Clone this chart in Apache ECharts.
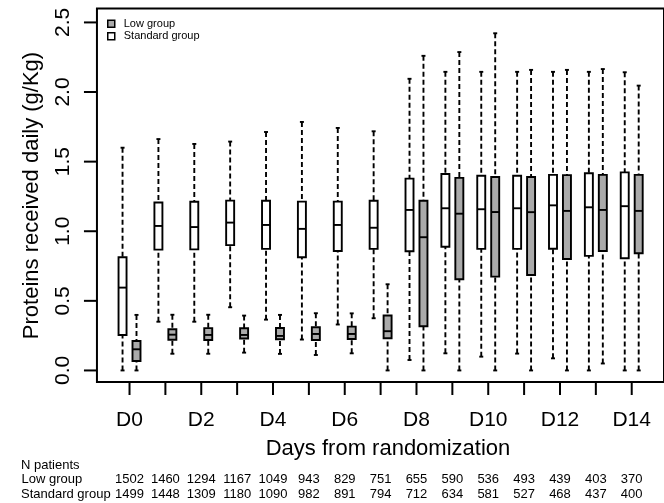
<!DOCTYPE html>
<html>
<head>
<meta charset="utf-8">
<script src="https://cdn.jsdelivr.net/npm/echarts@6/dist/echarts.min.js"></script>
<style>
  html, body { margin: 0; padding: 0; background: #fff; }
  #chart { width: 664px; height: 503px; }
</style>
</head>
<body>
<div id="chart"></div>
<script>
// Days after randomization
const dayLabels = ['D0','D1','D2','D3','D4','D5','D6','D7','D8','D9','D10','D11','D12','D13','D14'];

// Daily protein intake (g/kg): [lower whisker, Q1, median, Q3, upper whisker]
const standardStats = [
  [0.00, 0.255, 0.595, 0.813, 1.600],
  [0.35, 0.868, 1.038, 1.206, 1.662],
  [0.35, 0.870, 1.030, 1.212, 1.627],
  [0.454, 0.900, 1.062, 1.220, 1.644],
  [0.365, 0.873, 1.045, 1.219, 1.713],
  [0.222, 0.813, 1.017, 1.213, 1.785],
  [0.330, 0.858, 1.045, 1.213, 1.742],
  [0.375, 0.873, 1.025, 1.219, 1.718],
  [0.075, 0.856, 1.153, 1.378, 2.095],
  [0.123, 0.889, 1.165, 1.411, 2.145],
  [0.099, 0.873, 1.158, 1.399, 2.145],
  [0.121, 0.873, 1.165, 1.399, 2.145],
  [0.087, 0.874, 1.186, 1.405, 2.145],
  [0.000, 0.823, 1.172, 1.417, 2.145],
  [0.000, 0.806, 1.180, 1.423, 2.142]
];
const lowStats = [
  [0.000, 0.068, 0.152, 0.212, 0.399],
  [0.120, 0.221, 0.257, 0.296, 0.400],
  [0.120, 0.219, 0.255, 0.304, 0.400],
  [0.128, 0.229, 0.255, 0.303, 0.394],
  [0.119, 0.224, 0.248, 0.305, 0.399],
  [0.111, 0.219, 0.262, 0.310, 0.411],
  [0.123, 0.226, 0.262, 0.315, 0.410],
  [0.000, 0.231, 0.282, 0.395, 0.619],
  [0.000, 0.318, 0.957, 1.219, 2.260],
  [0.000, 0.655, 1.126, 1.383, 2.287],
  [0.000, 0.674, 1.138, 1.390, 2.422],
  [0.000, 0.686, 1.137, 1.390, 2.159],
  [0.000, 0.801, 1.146, 1.403, 2.159],
  [0.050, 0.858, 1.153, 1.405, 2.165],
  [0.000, 0.842, 1.146, 1.405, 2.046]
];

// Number of patients per day
const lowCounts = [1502, 1460, 1294, 1167, 1049, 943, 829, 751, 655, 590, 536, 493, 439, 403, 370];
const standardCounts = [1499, 1448, 1309, 1180, 1090, 982, 891, 794, 712, 634, 581, 527, 468, 437, 400];

// Axis ticks
const yTicks = [0, 0.5, 1.0, 1.5, 2.0, 2.5];
const xTickDays = dayLabels.map((_, i) => i);
const xLabelDays = xTickDays.filter(i => i % 2 === 0);

const FONT = "'Liberation Sans', Arial, Helvetica, sans-serif";
const BOX_W = 8;      // box width in px
const CAP_W = 4;      // whisker cap width in px
const SHIFT = 7 / 36; // side-by-side offset (in days)
const LW = 1.9;
const TICK_LEN = 13;

// Plot frame extent (data units)
const X_MIN = -0.908, X_MAX = 14.9;
const Y_MIN = -0.083, Y_MAX = 2.6;
// Drawing area is padded beyond the frame so the outward ticks fit inside it
const X_MIN_EXT = X_MIN - 14 / 36;
const Y_MIN_EXT = Y_MIN - 14 / 139.2;
const Y_MAX_EXT = Y_MAX + 2 / 139.2;

function toItems(stats, shift) {
  return stats.map((s, i) => [i + shift].concat(s));
}

function renderBox(params, api) {
  const x = api.value(0);
  const pMin = api.coord([x, api.value(1)]);
  const pQ1 = api.coord([x, api.value(2)]);
  const pMed = api.coord([x, api.value(3)]);
  const pQ3 = api.coord([x, api.value(4)]);
  const pMax = api.coord([x, api.value(5)]);
  const cx = pMin[0];
  const hw = BOX_W / 2, cw = CAP_W / 2;
  const fill = api.visual('color');
  const dash = { stroke: '#000', lineWidth: LW, lineDash: [5, 3], fill: null };
  const solid = { stroke: '#000', lineWidth: LW, fill: null };
  return {
    type: 'group',
    children: [
      { type: 'line', shape: { x1: cx, y1: pMax[1], x2: cx, y2: pQ3[1] }, style: dash },
      { type: 'line', shape: { x1: cx, y1: pMin[1], x2: cx, y2: pQ1[1] }, style: dash },
      { type: 'line', shape: { x1: cx - cw, y1: pMax[1], x2: cx + cw, y2: pMax[1] }, style: solid },
      { type: 'line', shape: { x1: cx - cw, y1: pMin[1], x2: cx + cw, y2: pMin[1] }, style: solid },
      { type: 'rect', shape: { x: cx - hw, y: pQ3[1], width: BOX_W, height: pQ1[1] - pQ3[1] },
        style: { fill: fill, stroke: '#000', lineWidth: LW } },
      { type: 'line', shape: { x1: cx - hw, y1: pMed[1], x2: cx + hw, y2: pMed[1] }, style: solid }
    ]
  };
}

// Frame item: [x0, y0, x1, y1]; draws the plot box plus its outward tick marks
function renderFrame(params, api) {
  const x0 = api.value(0), y0 = api.value(1), x1 = api.value(2), y1 = api.value(3);
  const tl = api.coord([x0, y1]);
  const br = api.coord([x1, y0]);
  const children = [{
    type: 'rect',
    shape: { x: tl[0], y: tl[1], width: br[0] - tl[0], height: br[1] - tl[1] },
    style: { fill: 'transparent', stroke: '#000', lineWidth: 2 }
  }];
  xTickDays.forEach(d => {
    const p = api.coord([d, y0]);
    children.push({ type: 'rect', shape: { x: p[0] - 1, y: p[1], width: 2, height: TICK_LEN },
                    style: { fill: '#000' } });
  });
  yTicks.forEach(v => {
    const p = api.coord([x0, v]);
    children.push({ type: 'rect', shape: { x: p[0] - TICK_LEN, y: p[1] - 1, width: TICK_LEN, height: 2 },
                    style: { fill: '#000' } });
  });
  return { type: 'group', children: children };
}

function countAxis(counts, offset) {
  return {
    type: 'value', gridIndex: 0, position: 'bottom', offset: offset,
    min: X_MIN_EXT, max: X_MAX,
    axisLine: { show: false, onZero: false }, axisTick: { show: false }, splitLine: { show: false },
    axisLabel: {
      customValues: xTickDays, margin: 0, verticalAlign: 'middle',
      formatter: v => String(counts[Math.round(v)]),
      fontFamily: FONT, fontSize: 13, color: '#000'
    }
  };
}

const chart = echarts.init(document.getElementById('chart'), null, { renderer: 'canvas' });

chart.setOption({
  animation: false,
  backgroundColor: '#fff',
  grid: {
    left: 83, top: 6.5, width: 583, height: 389.5, show: false
  },
  legend: {
    orient: 'vertical', left: 102, top: 13, itemWidth: 7, itemHeight: 7, itemGap: 1,
    icon: 'rect',
    textStyle: { fontFamily: FONT, fontSize: 11, color: '#000', padding: [0, 0, 0, 4], lineHeight: 11.5 },
    data: [
      { name: 'Low group', itemStyle: { color: '#aaaaaa', borderColor: '#000', borderWidth: 1.5 } },
      { name: 'Standard group', itemStyle: { color: '#ffffff', borderColor: '#000', borderWidth: 1.5 } }
    ]
  },
  xAxis: [
    {
      type: 'value', min: X_MIN_EXT, max: X_MAX, position: 'bottom',
      axisLine: { show: false, onZero: false },
      splitLine: { show: false },
      axisTick: { show: false },
      axisLabel: {
        customValues: xLabelDays, margin: 24, verticalAlign: 'middle',
        formatter: v => dayLabels[Math.round(v)],
        fontFamily: FONT, fontSize: 21, color: '#000'
      }
    },
    countAxis(lowCounts, 83.3),
    countAxis(standardCounts, 98.3)
  ],
  yAxis: {
    type: 'value', min: Y_MIN_EXT, max: Y_MAX_EXT, position: 'left',
    axisLine: { show: false, onZero: false },
    splitLine: { show: false },
    axisTick: { show: false },
    axisLabel: {
      customValues: yTicks, rotate: 90, margin: 19.5, align: 'center', verticalAlign: 'middle',
      formatter: v => v.toFixed(1),
      fontFamily: FONT, fontSize: 21, color: '#000'
    }
  },
  graphic: [
    { type: 'text', x: 32, y: 195.5, rotation: Math.PI / 2,
      style: { text: 'Proteins received daily (g/Kg)', fontFamily: FONT, fontSize: 22, fill: '#000',
               textAlign: 'center', textVerticalAlign: 'middle' } },
    { type: 'text', x: 388, y: 449,
      style: { text: 'Days from randomization', fontFamily: FONT, fontSize: 22, fill: '#000',
               textAlign: 'center', textVerticalAlign: 'middle' } },
    { type: 'text', x: 21, y: 465,
      style: { text: 'N patients', fontFamily: FONT, fontSize: 13, fill: '#000', textAlign: 'left', textVerticalAlign: 'middle' } },
    { type: 'text', x: 21.5, y: 479.3,
      style: { text: 'Low group', fontFamily: FONT, fontSize: 13, fill: '#000', textAlign: 'left', textVerticalAlign: 'middle' } },
    { type: 'text', x: 21, y: 494.3,
      style: { text: 'Standard group', fontFamily: FONT, fontSize: 13, fill: '#000', textAlign: 'left', textVerticalAlign: 'middle' } }
  ],
  series: [
    {
      name: 'Low group', type: 'custom', renderItem: renderBox,
      itemStyle: { color: '#aaaaaa' },
      encode: { x: 0, y: [1, 2, 3, 4, 5] },
      data: toItems(lowStats, SHIFT), clip: false, z: 3
    },
    {
      name: 'Standard group', type: 'custom', renderItem: renderBox,
      itemStyle: { color: '#ffffff' },
      encode: { x: 0, y: [1, 2, 3, 4, 5] },
      data: toItems(standardStats, -SHIFT), clip: false, z: 3
    },
    {
      name: 'frame', type: 'custom', renderItem: renderFrame, silent: true,
      encode: { x: [0, 2], y: [1, 3] },
      data: [[X_MIN, Y_MIN, X_MAX, Y_MAX]], clip: false, z: 4
    }
  ]
});
</script>
</body>
</html>
